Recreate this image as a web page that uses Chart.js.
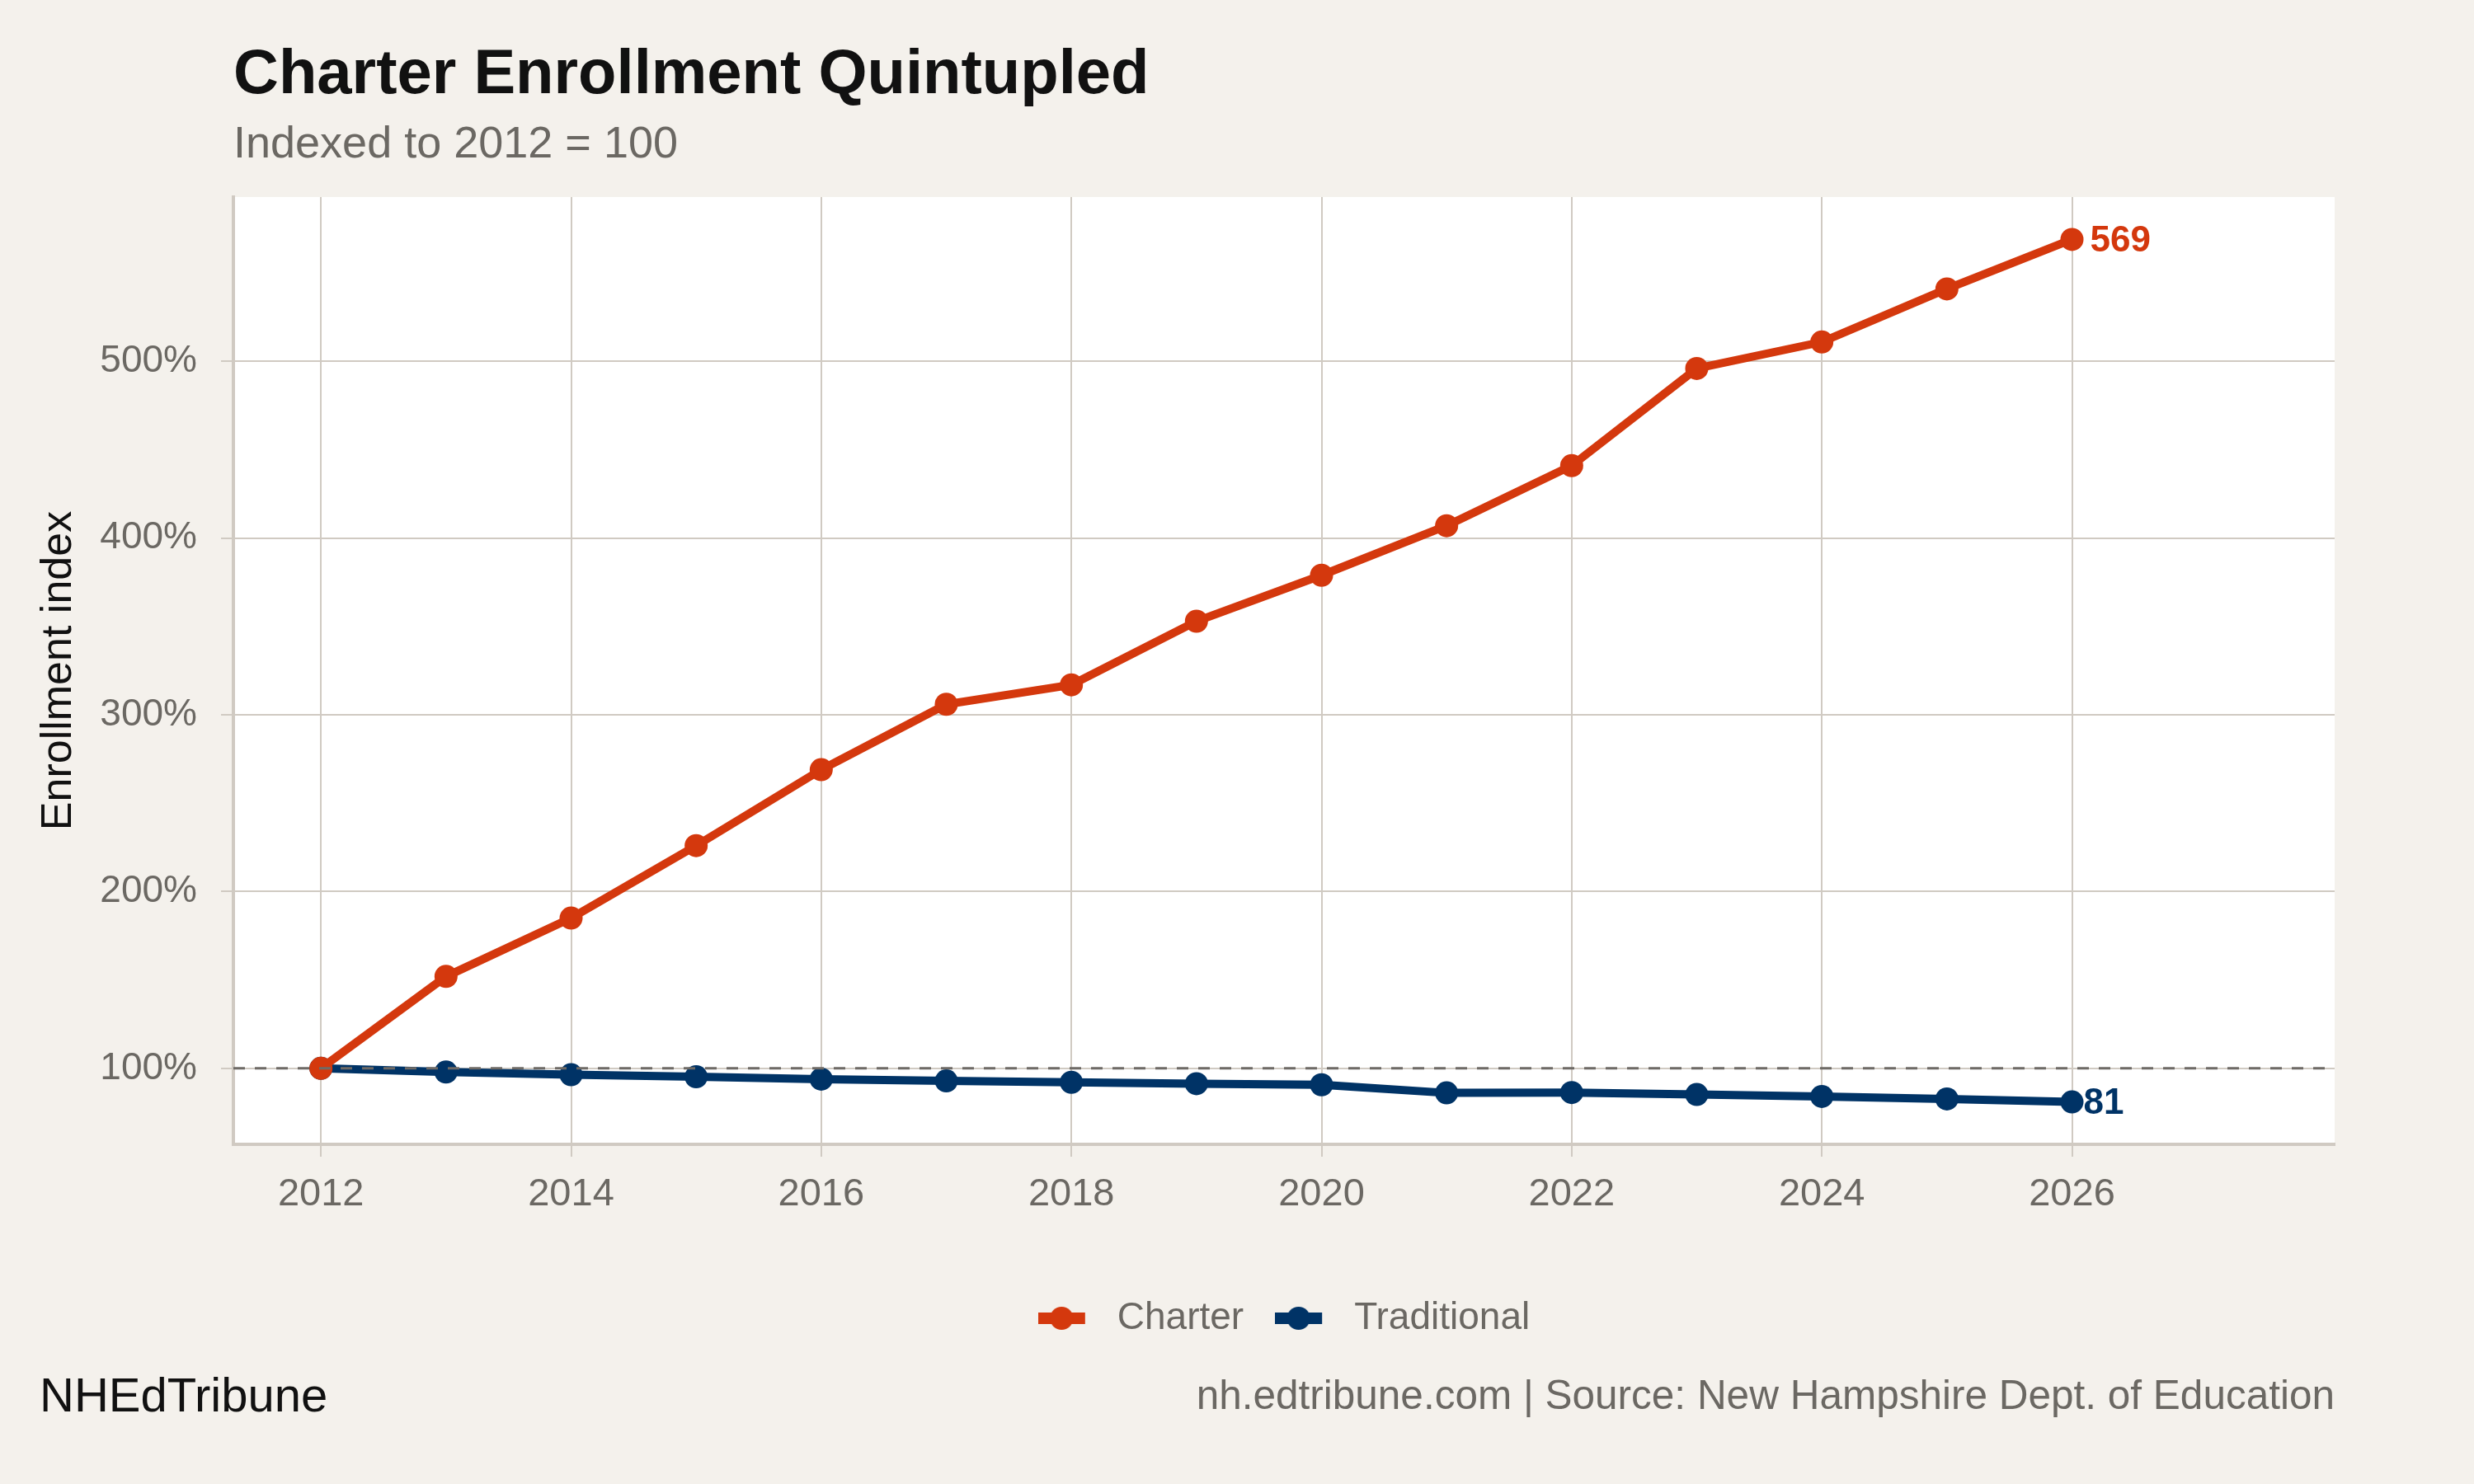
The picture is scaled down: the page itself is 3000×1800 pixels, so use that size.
<!DOCTYPE html>
<html lang="en">
<head>
<meta charset="UTF-8">
<title>Charter Enrollment Quintupled</title>
<script src="https://cdn.jsdelivr.net/npm/chart.js"></script>
<style>
  html, body { margin: 0; padding: 0; background: #f4f1ec; }
  canvas { display: block; width: 3000px; height: 1800px; }
</style>
</head>
<body>
<canvas id="chart" width="3000" height="1800"></canvas>
<script>
// data (index, 2012 = 100)
const years = [2012, 2013, 2014, 2015, 2016, 2017, 2018, 2019, 2020, 2021, 2022, 2023, 2024, 2025, 2026];
const charter = [100, 152, 185, 226, 269, 306, 317, 353, 379, 407, 441, 496, 511, 541, 569];
const traditional = [100, 97.9, 96.4, 95.2, 93.9, 92.9, 92.1, 91.3, 90.7, 86.1, 86.3, 85.2, 84.1, 82.7, 81];
const seriesNames = ['Charter', 'Traditional'];
const xTicks = [2012, 2014, 2016, 2018, 2020, 2022, 2024, 2026];
const yTicks = [100, 200, 300, 400, 500];
const baseline = 100;

const ORANGE = '#d4380d';
const NAVY = '#003366';
const GRID = '#d0cac2';
const GREY_TEXT = '#6b6863';
const FONT = "'Liberation Sans', Arial, sans-serif";

Chart.defaults.font.family = FONT;

// legend symbol: a short line with a dot on it, plus blank room on the right
function legendSymbol(color) {
    const c = document.createElement('canvas');
    c.width = 73; c.height = 32;
    const g = c.getContext('2d');
    g.fillStyle = color;
    g.fillRect(0, 9, 57, 14);
    g.beginPath();
    g.arc(28.5, 16, 14, 0, Math.PI * 2);
    g.fill();
    return c;
}
const symbols = [legendSymbol(ORANGE), legendSymbol(NAVY)];

const decorations = {
    id: 'decorations',
    beforeDraw(chart) {
        const { ctx, chartArea: a } = chart;
        ctx.save();
        ctx.fillStyle = '#f4f1ec';
        ctx.fillRect(0, 0, chart.width, chart.height);
        ctx.fillStyle = '#ffffff';
        ctx.fillRect(a.left, a.top, a.right - a.left, a.bottom - a.top);
        ctx.restore();
    },
    afterDatasetsDraw(chart) {
        const { ctx, chartArea: a, scales } = chart;
        const y = scales.y.getPixelForValue(baseline);
        ctx.save();
        ctx.strokeStyle = '#6e6a66';
        ctx.lineWidth = 3;
        ctx.setLineDash([14, 12]);
        ctx.beginPath();
        ctx.moveTo(a.left, y);
        ctx.lineTo(a.right, y);
        ctx.stroke();
        ctx.setLineDash([]);

        // end labels
        const offsets = [22, 14];
        ctx.font = 'bold 44px ' + FONT;
        ctx.textBaseline = 'middle';
        ctx.textAlign = 'left';
        chart.data.datasets.forEach((ds, i) => {
            const meta = chart.getDatasetMeta(i);
            const last = meta.data[meta.data.length - 1];
            const v = ds.data[ds.data.length - 1].y;
            ctx.fillStyle = ds.borderColor;
            ctx.fillText(String(Math.round(v)), last.x + offsets[i], last.y + 2);
        });
        ctx.restore();
    },
    afterDraw(chart) {
        const { ctx, chartArea: a } = chart;
        ctx.save();
        ctx.textBaseline = 'alphabetic';
        ctx.textAlign = 'left';
        ctx.fillStyle = '#111111';
        ctx.font = 'bold 76px ' + FONT;
        ctx.fillText('Charter Enrollment Quintupled', a.left, 113);
        ctx.fillStyle = GREY_TEXT;
        ctx.font = '54px ' + FONT;
        ctx.fillText('Indexed to 2012 = 100', a.left, 191);

        ctx.fillStyle = '#111111';
        ctx.font = '58px ' + FONT;
        ctx.fillText('NHEdTribune', 48, 1712);
        ctx.fillStyle = GREY_TEXT;
        ctx.font = '49.5px ' + FONT;
        ctx.textAlign = 'right';
        ctx.fillText('nh.edtribune.com | Source: New Hampshire Dept. of Education', a.right, 1709);
        ctx.restore();
    }
};

const toPoints = arr => arr.map((v, i) => ({ x: years[i], y: v }));

new Chart(document.getElementById('chart'), {
    type: 'line',
    data: {
        datasets: [
            {
                label: seriesNames[0],
                data: toPoints(charter),
                borderColor: ORANGE,
                backgroundColor: ORANGE,
                borderWidth: 10,
                pointRadius: 14,
                pointBorderWidth: 0,
                tension: 0
            },
            {
                label: seriesNames[1],
                data: toPoints(traditional),
                borderColor: NAVY,
                backgroundColor: NAVY,
                borderWidth: 10,
                pointRadius: 14,
                pointBorderWidth: 0,
                tension: 0
            }
        ]
    },
    options: {
        responsive: false,
        devicePixelRatio: 1,
        animation: false,
        layout: { padding: { top: 239, right: 169, left: 0, bottom: 168 } },
        scales: {
            x: {
                type: 'linear',
                min: 2011.3,
                max: 2028.1,
                afterFit: s => { s.height = 150; },
                afterBuildTicks: s => { s.ticks = xTicks.map(v => ({ value: v })); },
                ticks: {
                    color: GREY_TEXT,
                    font: { size: 47 },
                    padding: 18,
                    maxRotation: 0,
                    callback: v => String(v)
                },
                grid: { color: GRID, lineWidth: 2, tickLength: 15, tickColor: GRID },
                border: { color: GRID, width: 4 }
            },
            y: {
                min: 57,
                max: 593,
                afterFit: s => { s.width = 283; },
                afterBuildTicks: s => { s.ticks = yTicks.map(v => ({ value: v })); },
                ticks: {
                    color: GREY_TEXT,
                    font: { size: 46 },
                    padding: 29,
                    callback: v => v + '%'
                },
                grid: { color: GRID, lineWidth: 2, tickLength: 15, tickColor: GRID },
                border: { color: GRID, width: 4 },
                title: {
                    display: true,
                    text: 'Enrollment index',
                    color: '#111111',
                    font: { size: 52 },
                    padding: { top: 40, bottom: 0 }
                }
            }
        },
        plugins: {
            legend: {
                position: 'bottom',
                fullSize: false,
                labels: {
                    usePointStyle: true,
                    pointStyleWidth: 73,
                    color: GREY_TEXT,
                    font: { size: 46 },
                    padding: 38,
                    generateLabels(chart) {
                        const items = Chart.defaults.plugins.legend.labels.generateLabels(chart);
                        items.forEach((it, i) => { it.pointStyle = symbols[i]; });
                        return items;
                    }
                }
            },
            tooltip: { enabled: false }
        }
    },
    plugins: [decorations]
});
</script>
</body>
</html>
